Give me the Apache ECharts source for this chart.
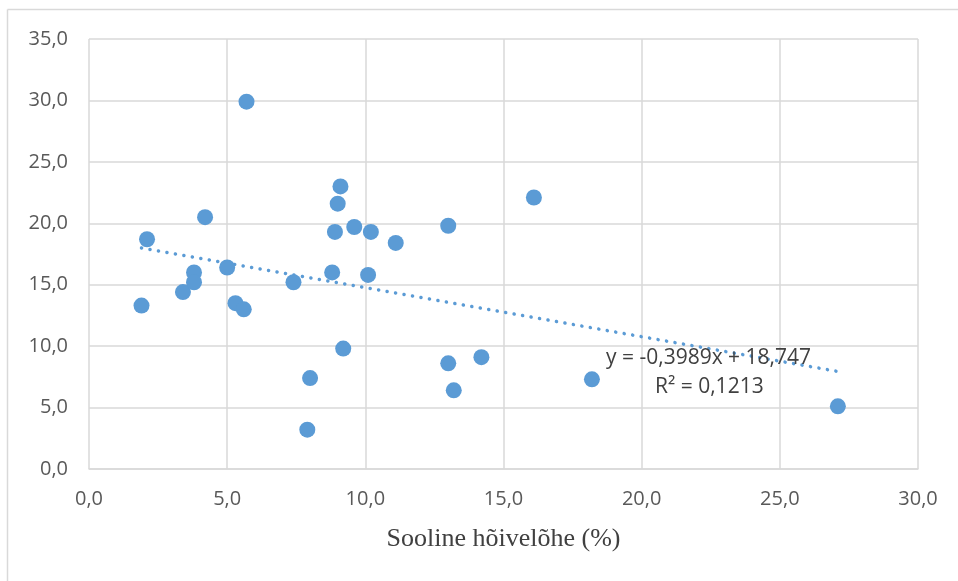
<!DOCTYPE html>
<html><head><meta charset="utf-8">
<script src="https://cdn.jsdelivr.net/npm/echarts@6/dist/echarts.min.js"></script>
<style>html,body{margin:0;padding:0;background:#fff}#c{width:958px;height:581px}</style>
</head><body><div id="c"></div>
<script>
const xValues = [1.9, 2.1, 3.4, 3.8, 3.8, 4.2, 5.0, 5.3, 5.6, 5.7, 7.4, 7.9, 8.0, 8.8, 8.9, 9.0, 9.1, 9.2, 9.6, 10.1, 10.2, 11.1, 13.0, 13.0, 13.2, 14.2, 16.1, 18.2, 27.1];
const yValues = [13.3, 18.7, 14.4, 16.0, 15.2, 20.5, 16.4, 13.5, 13.0, 29.9, 15.2, 3.2, 7.4, 16.0, 19.3, 21.6, 23.0, 9.8, 19.7, 15.8, 19.3, 18.4, 19.8, 8.6, 6.4, 9.1, 22.1, 7.3, 5.1];
const trendSlope = -0.3989;
const trendIntercept = 18.747;
const trendX = [1.9, 27.1];
const eqText = 'y = -0,3989x + 18,747';
const r2Text = 'R² = 0,1213';
const xName = 'Sooline hõivelõhe (%)';

const fmt = v => v.toFixed(1).replace('.', ',');
const pts = xValues.map((x, i) => [x, yValues[i]]);
const trend = trendX.map(x => [x, trendSlope * x + trendIntercept]);

const chart = echarts.init(document.getElementById('c'));
const gridLine = {show: true, lineStyle: {color: '#d9d9d9', width: 1.5}};
chart.setOption({
  animation: false,
  grid: {left: 89, top: 39, right: 40, bottom: 112},
  xAxis: {
    type: 'value', min: 0, max: 30, interval: 5,
    axisLine: {show: true, lineStyle: {color: '#d9d9d9', width: 1.5}},
    axisTick: {show: false},
    splitLine: gridLine,
    axisLabel: {formatter: fmt, color: '#595959', fontFamily: 'Open Sans', fontSize: 20, margin: 20},
    name: xName, nameLocation: 'middle', nameGap: 57,
    nameTextStyle: {fontFamily: 'Liberation Serif', fontSize: 26, color: '#404040'}
  },
  yAxis: {
    type: 'value', min: 0, max: 35, interval: 5,
    axisLine: {show: false},
    axisTick: {show: false},
    splitLine: gridLine,
    axisLabel: {formatter: fmt, color: '#595959', fontFamily: 'Open Sans', fontSize: 20, margin: 21}
  },
  graphic: [
    {type: 'line', shape: {x1: 7.5, y1: 581, x2: 7.5, y2: 9.5}, style: {stroke: '#d9d9d9', lineWidth: 1.5}},
    {type: 'line', shape: {x1: 7.5, y1: 9.5, x2: 958, y2: 9.5}, style: {stroke: '#d9d9d9', lineWidth: 1.5}},
    {type: 'text', left: 606, top: 348, z: 10, style: {text: eqText, font: '21px "Open Sans"', fill: '#404040'}},
    {type: 'text', left: 655, top: 377, z: 10, style: {text: r2Text, font: '21px "Open Sans"', fill: '#404040'}}
  ],
  series: [
    {type: 'scatter', data: pts, symbolSize: 16, itemStyle: {color: '#5b9bd5', opacity: 1}, z: 3},
    {type: 'line', data: trend, symbol: 'none', z: 2,
     lineStyle: {color: '#5b9bd5', width: 3.5, type: [0.1, 8.5], cap: 'round'}}
  ]
});
</script></body></html>
